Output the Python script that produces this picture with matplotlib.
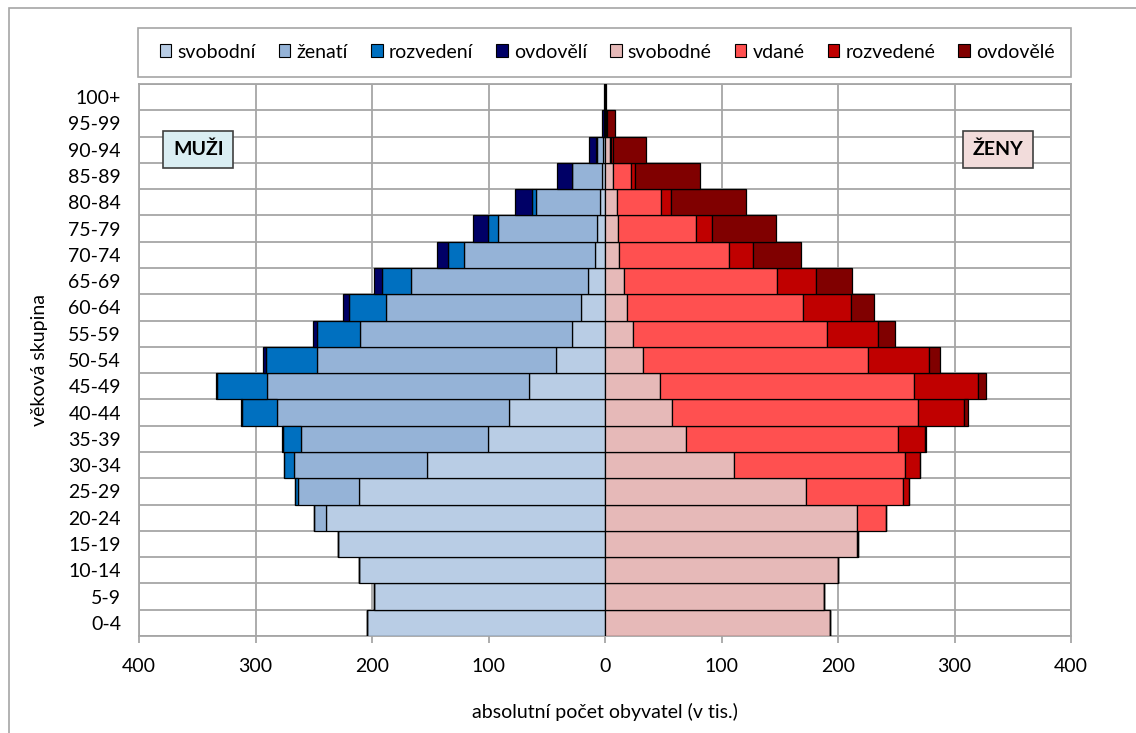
import numpy as np
import matplotlib.pyplot as plt
from matplotlib.patches import Rectangle, Patch
from matplotlib.ticker import FuncFormatter

plt.rcParams['font.family'] = ['Lato', 'DejaVu Sans']

# věkové skupiny (zdola nahoru)
groups = ['0-4', '5-9', '10-14', '15-19', '20-24', '25-29', '30-34', '35-39',
          '40-44', '45-49', '50-54', '55-59', '60-64', '65-69', '70-74',
          '75-79', '80-84', '85-89', '90-94', '95-99', '100+']

# muži (tis.)
m_svobodni = [204.6, 198.5, 211.2, 229.0, 239.7, 211.2, 152.5, 100.7, 82.1, 65.2, 42.3,
              28.3, 20.6, 14.8, 8.6, 7.1, 4.3, 3.0, 1.5, 0.3, 0.1]
m_zenati = [0.0, 0.0, 0.0, 0.4, 9.8, 52.6, 114.2, 160.3, 199.7, 224.7, 205.2,
            182.0, 167.6, 151.7, 112.2, 85.0, 55.0, 25.0, 5.6, 0.8, 0.1]
m_rozvedeni = [0.0, 0.0, 0.0, 0.0, 0.3, 2.3, 8.6, 15.1, 29.5, 42.9, 43.5,
               36.7, 31.5, 24.7, 13.7, 8.6, 3.7, 0.5, 0.5, 0.1, 0.0]
m_ovdoveli = [0.0, 0.0, 0.0, 0.0, 0.0, 0.1, 0.4, 0.9, 1.4, 1.4, 2.8,
              3.4, 5.4, 7.1, 9.5, 12.3, 14.4, 13.0, 6.0, 1.5, 0.3]

# ženy (tis.)
z_svobodne = [193.1, 188.3, 200.3, 216.5, 216.0, 172.3, 111.0, 69.3, 57.3, 47.2, 32.9,
              24.3, 19.1, 16.3, 12.3, 11.4, 10.0, 7.0, 4.0, 0.8, 0.2]
z_vdane = [0.0, 0.0, 0.0, 1.0, 25.2, 83.8, 146.8, 182.5, 211.1, 218.3, 193.1,
           166.0, 151.1, 131.1, 94.4, 66.7, 38.0, 15.0, 1.5, 0.3, 0.1]
z_rozvedene = [0.0, 0.0, 0.0, 0.0, 0.3, 4.9, 12.6, 22.9, 40.0, 55.0, 52.4,
               44.3, 40.7, 33.7, 20.6, 13.5, 8.7, 4.0, 1.5, 0.2, 0.0]
z_ovdovele = [0.0, 0.0, 0.0, 0.0, 0.0, 0.1, 0.3, 0.8, 2.9, 6.3, 9.2,
              14.3, 20.0, 30.6, 40.9, 54.9, 64.0, 55.5, 28.0, 7.5, 0.8]

men_labels = ['svobodní', 'ženatí', 'rozvedení', 'ovdovělí']
women_labels = ['svobodné', 'vdané', 'rozvedené', 'ovdovělé']
men_colors = ['#B9CDE5', '#95B3D7', '#0070C0', '#000066']
women_colors = ['#E6B9B8', '#FF5050', '#C00000', '#800000']

FS = 14

W, H = 1136, 733
fig = plt.figure(figsize=(W / 100, H / 100), dpi=100)
ax = fig.add_axes([139 / W, 1 - 636 / H, (1071 - 139) / W, (636 - 84) / H])

y = np.arange(len(groups))

# muži doleva
left = np.zeros(len(groups))
for vals, col in zip([m_svobodni, m_zenati, m_rozvedeni, m_ovdoveli], men_colors):
    v = -np.array(vals)
    ax.barh(y, v, left=left, height=1.0, color=col, edgecolor='black', linewidth=0.9, zorder=3)
    left += v

# ženy doprava
left = np.zeros(len(groups))
for vals, col in zip([z_svobodne, z_vdane, z_rozvedene, z_ovdovele], women_colors):
    v = np.array(vals)
    ax.barh(y, v, left=left, height=1.0, color=col, edgecolor='black', linewidth=0.9, zorder=3)
    left += v

ax.set_xlim(-400, 400)
ax.set_ylim(-0.5, len(groups) - 0.5)
ax.set_xticks(np.arange(-400, 401, 100))
ax.xaxis.set_major_formatter(FuncFormatter(lambda v, p: '%d' % abs(v)))
ax.set_yticks(y)
ax.set_yticklabels(groups)
ax.set_yticks(np.arange(-0.5, len(groups), 1.0), minor=True)

ax.grid(True, axis='x', which='major', color='#A6A6A6', linewidth=1.3, zorder=0)
ax.grid(True, axis='y', which='minor', color='#A6A6A6', linewidth=1.3, zorder=0)
ax.grid(False, axis='y', which='major')
ax.set_axisbelow(True)
for s in ax.spines.values():
    s.set_color('#A6A6A6')
    s.set_linewidth(1.3)

ax.tick_params(axis='x', which='major', length=5, width=1.3, color='#A6A6A6',
               pad=11, labelsize=FS, colors='black')
ax.tick_params(axis='x', which='minor', length=0)
ax.tick_params(axis='y', which='both', length=0, pad=13, labelsize=FS)

# popisky os
fig.text(605 / W, 1 - 712 / H, 'absolutní počet obyvatel (v tis.)', ha='center', va='center', fontsize=FS)
fig.text(40 / W, 1 - 360 / H, 'věková skupina', ha='center', va='center', rotation=90, fontsize=FS)

# štítky MUŽI / ŽENY
ax.text(-349, 18, 'MUŽI', ha='center', va='center', fontsize=FS, fontweight='bold', zorder=5,
        bbox=dict(boxstyle='square,pad=0.5', facecolor='#DAEEF3', edgecolor='#404040', linewidth=1.2))
ax.text(337, 18, 'ŽENY', ha='center', va='center', fontsize=FS, fontweight='bold', zorder=5,
        bbox=dict(boxstyle='square,pad=0.5', facecolor='#F2DCDB', edgecolor='#404040', linewidth=1.2))

# vnější rámeček a rámeček legendy
fig.patches.append(Rectangle((9 / W, -0.1), 1.2, 1 - 8 / H + 0.1, transform=fig.transFigure,
                             fill=False, edgecolor='#A6A6A6', linewidth=1.2))
fig.patches.append(Rectangle((138 / W, 1 - 77 / H), (1071 - 138) / W, 49 / H, transform=fig.transFigure,
                             fill=False, edgecolor='#A6A6A6', linewidth=1.2))

handles = [Patch(facecolor=c, edgecolor='black', linewidth=0.8) for c in men_colors + women_colors]
fig.legend(handles, men_labels + women_labels, loc='center', bbox_to_anchor=(607 / W, 1 - 52 / H),
           ncol=8, frameon=False, fontsize=FS, handlelength=0.6, handleheight=0.6,
           handletextpad=0.3, columnspacing=1.2, borderaxespad=0)

fig.savefig('out.png', dpi=100)
